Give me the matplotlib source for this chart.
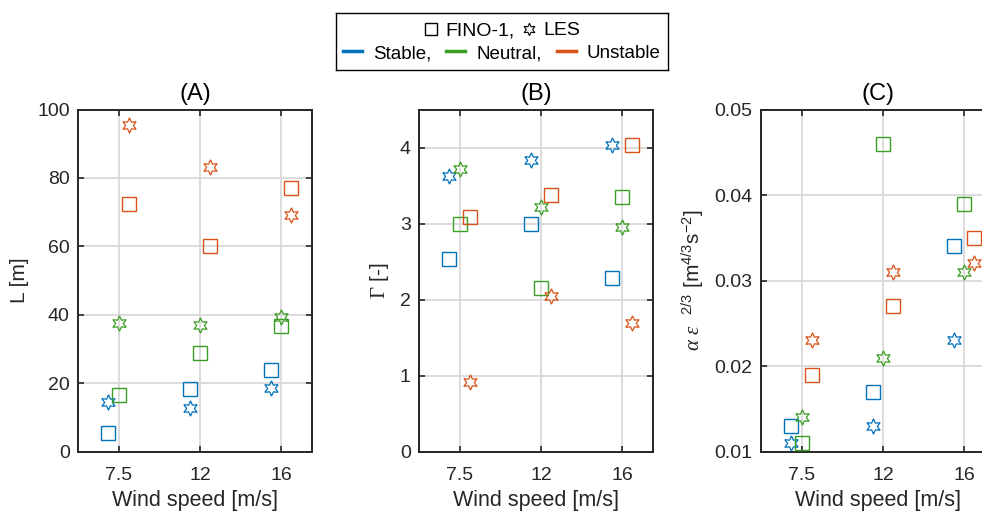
import matplotlib
matplotlib.use('Agg')
import matplotlib.pyplot as plt
from matplotlib.lines import Line2D

plt.rcParams['font.family'] = ['Liberation Sans', 'DejaVu Sans']
plt.rcParams['mathtext.fontset'] = 'custom'
plt.rcParams['mathtext.rm'] = 'Liberation Sans'
plt.rcParams['mathtext.it'] = 'Liberation Serif:italic'
plt.rcParams['mathtext.sf'] = 'Liberation Serif'

wind_labels = ['7.5', '12', '16']
classes = ['Stable', 'Neutral', 'Unstable']
colors = ['#0072BD', '#3A9E23', '#D95319']
offsets = [-0.125, 0.0, 0.125]

# rows: stable, neutral, unstable ; columns: 7.5, 12, 16 m/s
L_fino = [[5.5, 18.3, 23.9], [16.7, 28.7, 36.6], [72.4, 60.2, 77.2]]
L_les = [[14.4, 12.8, 18.5], [37.6, 37.1, 39.5], [95.6, 83.2, 69.1]]
gamma_fino = [[2.54, 3.0, 2.29], [3.0, 2.15, 3.35], [3.08, 3.38, 4.03]]
gamma_les = [[3.62, 3.83, 4.03], [3.72, 3.22, 2.96], [0.92, 2.05, 1.69]]
ae_fino = [[0.013, 0.017, 0.034], [0.011, 0.046, 0.039], [0.019, 0.027, 0.035]]
ae_les = [[0.011, 0.013, 0.023], [0.014, 0.021, 0.031], [0.023, 0.031, 0.032]]

star = (6, 1, 0)
dark = '#262626'

fig = plt.figure(figsize=(9.82, 5.11), dpi=100)

panels = [
    ('(A)', L_fino, L_les, 'L [m]', (0, 100), [0, 20, 40, 60, 80, 100], ['0', '20', '40', '60', '80', '100']),
    ('(B)', gamma_fino, gamma_les, r'$\mathsf{\Gamma}$ [-]', (0, 4.5), [0, 1, 2, 3, 4], ['0', '1', '2', '3', '4']),
    ('(C)', ae_fino, ae_les, r'$\alpha$ $\epsilon$  $^{2/3}$ [m$^{4/3}$s$^{-2}$]', (0.01, 0.05),
     [0.01, 0.02, 0.03, 0.04, 0.05], ['0.01', '0.02', '0.03', '0.04', '0.05']),
]
lefts = [78 / 982, 419 / 982, 761 / 982]

for left, (title, fino, les, ylab, ylim, yt, ytl) in zip(lefts, panels):
    ax = fig.add_axes([left, 0.1161, 0.2383, 0.6696])
    for k in range(3):
        xs = [i + 1 + offsets[k] for i in range(3)]
        ax.plot(xs, fino[k], ls='none', marker='s', ms=10, mfc='none',
                mec=colors[k], mew=1.0, zorder=3)
        ax.plot(xs, les[k], ls='none', marker=star, ms=11, mfc='none',
                mec=colors[k], mew=0.9, zorder=3)
    ax.set_xlim(0.5, 3.38)
    ax.set_ylim(*ylim)
    ax.set_xticks([1, 2, 3])
    ax.set_xticklabels(wind_labels)
    ax.set_yticks(yt)
    ax.set_yticklabels(ytl)
    ax.grid(True, color='#d9d9d9', lw=1.3)
    ax.set_axisbelow(True)
    ax.tick_params(direction='in', top=True, right=True, labelsize=14,
                   colors=dark, length=4, width=1.2)
    ax.tick_params(axis='x', pad=11)
    ax.tick_params(axis='y', pad=6)
    for s in ax.spines.values():
        s.set_color(dark)
        s.set_linewidth(1.4)
    ax.set_title(title, fontsize=17, color='black', pad=7)
    ax.set_xlabel('Wind speed [m/s]', fontsize=15.5, color=dark, labelpad=4)
    ax.set_ylabel(ylab, fontsize=15, color=dark, labelpad=6)

# legend box above the panels
lax = fig.add_axes([336 / 982, 1 - 70 / 511, 332 / 982, 57 / 511])
lax.set_xticks([])
lax.set_yticks([])
for s in lax.spines.values():
    s.set_color('black')
    s.set_linewidth(1.0)

src_handles = [Line2D([], [], ls='none', marker='s', ms=8, mfc='none', mec='black', mew=1.0),
               Line2D([], [], ls='none', marker=star, ms=9, mfc='none', mec='black', mew=0.8)]
leg1 = lax.legend(src_handles, ['FINO-1,', 'LES'], ncol=2, loc='center',
                  bbox_to_anchor=(0.5, 0.69), frameon=False, fontsize=14,
                  handlelength=0.7, handletextpad=0.4, columnspacing=0.4,
                  borderpad=0, borderaxespad=0)
lax.add_artist(leg1)
cls_handles = [Line2D([], [], color=c, lw=2.5) for c in colors]
lax.legend(cls_handles, ['Stable,', 'Neutral,', 'Unstable'], ncol=3, loc='center',
           bbox_to_anchor=(0.5, 0.29), frameon=False, fontsize=13.5,
           handlelength=1.0, handletextpad=0.6, columnspacing=0.8,
           borderpad=0, borderaxespad=0)

fig.savefig('out.png', dpi=100)
